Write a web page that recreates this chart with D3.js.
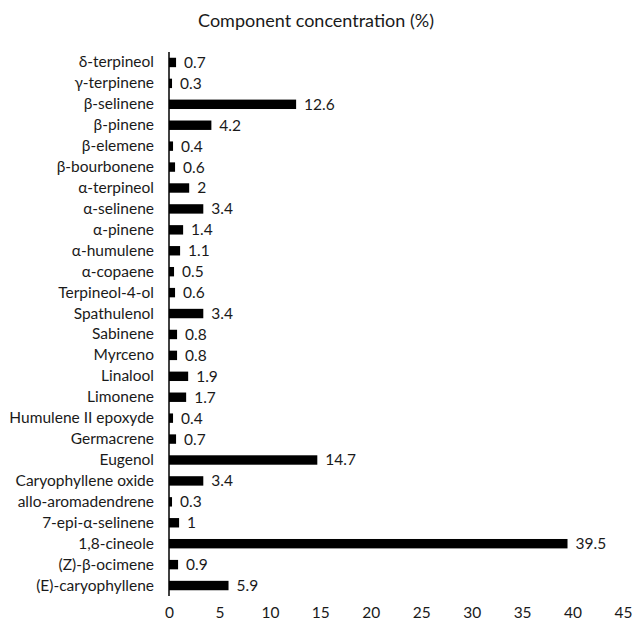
<!DOCTYPE html>
<html><head><meta charset="utf-8">
<script src="https://cdn.jsdelivr.net/npm/d3@7"></script>
<style>body{margin:0;background:#fff}svg{display:block}text{font-family:Lato,"Open Sans",sans-serif;fill:#1a1a1a}</style>
</head><body><svg id="c" width="633" height="624"></svg>
<script>
const categories = ["δ-terpineol","γ-terpinene","β-selinene","β-pinene","β-elemene","β-bourbonene","α-terpineol","α-selinene","α-pinene","α-humulene","α-copaene","Terpineol-4-ol","Spathulenol","Sabinene","Myrceno","Linalool","Limonene","Humulene II epoxyde","Germacrene","Eugenol","Caryophyllene oxide","allo-aromadendrene","7-epi-α-selinene","1,8-cineole","(Z)-β-ocimene","(E)-caryophyllene"];
const values = [0.7,0.3,12.6,4.2,0.4,0.6,2,3.4,1.4,1.1,0.5,0.6,3.4,0.8,0.8,1.9,1.7,0.4,0.7,14.7,3.4,0.3,1,39.5,0.9,5.9];
const xTicks = [0,5,10,15,20,25,30,35,40,45];
const title = "Component concentration (%)";

const svg = d3.select("#c");
const mLeft = 169, mRight = 623, mTop = 52, mBottom = 596;
const fs = "15.5px";
const x = d3.scaleLinear().domain([0,45]).range([mLeft,mRight]);
const y = d3.scaleBand().domain(categories).range([mTop,mBottom]).paddingInner(0.55).paddingOuter(0.275);

svg.append("text").attr("x",316).attr("y",27).attr("text-anchor","middle").style("font-size","18px").text(title);

svg.selectAll("rect.bar").data(categories).enter().append("rect")
  .attr("x",x(0)).attr("y",d=>y(d)).attr("width",(d,i)=>x(values[i])-x(0)).attr("height",y.bandwidth()).attr("fill","#000");

svg.selectAll("text.val").data(categories).enter().append("text")
  .attr("x",(d,i)=>x(values[i])+8).attr("y",d=>y(d)+y.bandwidth()/2).attr("dy","0.35em")
  .style("font-size",fs).text((d,i)=>values[i]);

const ya = d3.axisLeft(y).tickSize(0).tickPadding(15);
const g = svg.append("g").attr("transform",`translate(${mLeft},0)`).call(ya);
g.select(".domain").attr("stroke","#000").attr("stroke-width",1.5).attr("d",`M0,${mTop}V${mBottom}`);
g.selectAll("text").style("font-size",fs).style("font-family","Lato,'Open Sans',sans-serif").attr("fill","#1a1a1a");

const xa = d3.axisBottom(x).tickValues(xTicks).tickSize(0).tickPadding(0);
const gx = svg.append("g").attr("transform",`translate(0,${mBottom+11})`).call(xa);
gx.select(".domain").remove();
gx.selectAll("text").style("font-size",fs).style("font-family","Lato,'Open Sans',sans-serif").attr("fill","#1a1a1a");
</script></body></html>
